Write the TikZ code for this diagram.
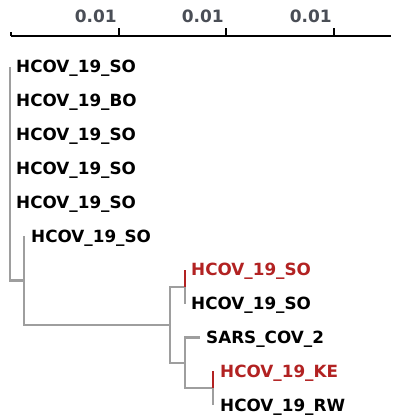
\documentclass[tikz,border=0pt]{standalone}
\usepackage{fontspec}
\setmainfont{DejaVu Sans}
\definecolor{branch}{RGB}{158,158,158}
\definecolor{hilite}{RGB}{178,34,34}
\definecolor{scaletext}{RGB}{74,78,86}
\tikzset{
  leaf/.style={anchor=base west, inner sep=0pt, font=\fontsize{16.8}{20}\selectfont\bfseries},
  leafhi/.style={leaf, text=hilite},
  edge/.style={draw=branch, line width=2.8pt},
  edgehi/.style={draw=hilite, line width=2.8pt},
  scalebar/.style={draw=black, line width=1.3pt},
  scalelabel/.style={anchor=base east, inner sep=0pt, text=scaletext, font=\fontsize{17}{20}\selectfont\bfseries}
}
\begin{document}
\begin{tikzpicture}[x=1pt, y=-1pt]
\useasboundingbox (0,0) rectangle (392,417);

% scale bar
\coordinate (s0) at (11,36);
\coordinate (s1) at (119,36);
\coordinate (s2) at (226,36);
\coordinate (s3) at (334,36);
\coordinate (send) at (391,36);
\draw[scalebar] (s0) -- (send);
\draw[scalebar] (s0) -- ++(0,-4);
\foreach \t in {s1,s2,s3} \draw[scalebar] (\t) -- ++(0,-8);
\node[scalelabel] (l1) at ([xshift=-2pt,yshift=13pt]s1) {0.01};
\node[scalelabel] (l2) at ([xshift=-2pt,yshift=13pt]s2) {0.01};
\node[scalelabel] (l3) at ([xshift=-2pt,yshift=13pt]s3) {0.01};

% internal nodes
\coordinate (root) at (10,174);
\coordinate (nB) at (24,280.5);
\coordinate (nC) at (170,325);
\coordinate (nD) at (185,287);
\coordinate (nE) at (185,363);
\coordinate (nF) at (213,388);

% leaf tips
\coordinate (p1) at (10,67);
\coordinate (p2) at (10,100.8);
\coordinate (p3) at (10,134.6);
\coordinate (p4) at (10,168.4);
\coordinate (p5) at (10,202.2);
\coordinate (p6) at (24,236);
\coordinate (p7) at (185,269.8);
\coordinate (p8) at (185,303.6);
\coordinate (p9) at (200,337.4);
\coordinate (p10) at (213,371.2);
\coordinate (p11) at (213,405);

% leaf labels (base line a little below the tip)
\node[leaf]   (t1)  at ([xshift=6pt,yshift=-6pt]p1)  {HCOV\_19\_SO};
\node[leaf]   (t2)  at ([xshift=6pt,yshift=-6pt]p2)  {HCOV\_19\_BO};
\node[leaf]   (t3)  at ([xshift=6pt,yshift=-6pt]p3)  {HCOV\_19\_SO};
\node[leaf]   (t4)  at ([xshift=6pt,yshift=-6pt]p4)  {HCOV\_19\_SO};
\node[leaf]   (t5)  at ([xshift=6pt,yshift=-6pt]p5)  {HCOV\_19\_SO};
\node[leaf]   (t6)  at ([xshift=7pt,yshift=-6pt]p6)  {HCOV\_19\_SO};
\node[leafhi] (t7)  at ([xshift=6pt,yshift=-6pt]p7)  {HCOV\_19\_SO};
\node[leaf]   (t8)  at ([xshift=6pt,yshift=-6pt]p8)  {HCOV\_19\_SO};
\node[leaf]   (t9)  at ([xshift=6pt,yshift=-6pt]p9)  {SARS\_COV\_2};
\node[leafhi] (t10) at ([xshift=7pt,yshift=-6pt]p10) {HCOV\_19\_KE};
\node[leaf]   (t11) at ([xshift=7pt,yshift=-6pt]p11) {HCOV\_19\_RW};

% branches
\foreach \c in {p1,p2,p3,p4,p5,nB} \draw[edge] (root) |- (\c);
\foreach \c in {p6,nC} \draw[edge] (nB) |- (\c);
\foreach \c in {nD,nE} \draw[edge] (nC) |- (\c);
\draw[edge] (nD) |- (p8);
\draw[edgehi] (nD) |- (p7);
\foreach \c in {p9,nF} \draw[edge] (nE) |- (\c);
\draw[edge] (nF) |- (p11);
\draw[edgehi] (nF) |- (p10);
\end{tikzpicture}
\end{document}
